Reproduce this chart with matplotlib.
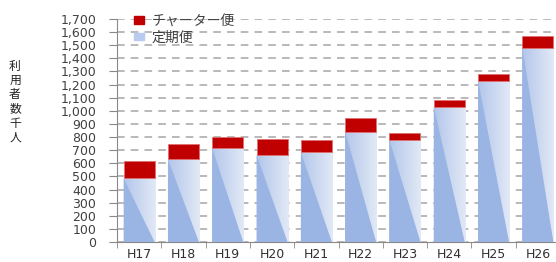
import numpy as np
import matplotlib.pyplot as plt
from matplotlib.patches import Polygon, Rectangle
from matplotlib.colors import LinearSegmentedColormap

# data (thousand people)
years = ["H17", "H18", "H19", "H20", "H21", "H22", "H23", "H24", "H25", "H26"]
regular = [485, 630, 714, 665, 684, 841, 777, 1031, 1229, 1481]   # 定期便
charter = [135, 115, 84, 120, 93, 102, 56, 51, 51, 91]            # チャーター便
yticks = list(range(0, 1800, 100))

BLUE = "#9ab4e3"
RED = "#c00000"
grad = LinearSegmentedColormap.from_list("g", ["#b3c6ea", "#e2e9f6"])

plt.rcParams["font.family"] = ["Noto Sans CJK JP", "DejaVu Sans"]

fig = plt.figure(figsize=(5.56, 2.62), dpi=100)
ax = fig.add_axes([117 / 556, 20 / 262, 443 / 556, 223 / 262])

x = np.arange(len(years))
w = 0.7

for i in range(len(years)):
    x0, x1 = x[i] - w / 2, x[i] + w / 2
    h = regular[i]
    im = ax.imshow(np.linspace(0, 1, 64).reshape(1, -1), cmap=grad,
                   extent=(x0, x1, 0, h), aspect="auto", zorder=2,
                   interpolation="bilinear")
    clip = Rectangle((x0, 0), w, h, transform=ax.transData)
    im.set_clip_path(clip)
    ax.add_patch(Polygon([(x0, 0), (x0, h), (x1, 0)], closed=True,
                         facecolor=BLUE, edgecolor="none", zorder=3))

ax.bar(x, charter, w, bottom=regular, color=RED, edgecolor="#e07070",
       linewidth=0.6, zorder=3)

ax.set_xlim(-0.5, len(years) - 0.5)
ax.set_ylim(0, 1700)

ax.set_yticks(yticks)
ax.set_yticklabels([f"{v:,}" for v in yticks], fontsize=9,
                   color="#404040", family="DejaVu Sans")
ax.set_xticks(x)
ax.set_xticklabels(years, fontsize=9, color="#303030",
                   family="DejaVu Sans")
ax.set_xticks(np.arange(-0.5, len(years)), minor=True)
ax.tick_params(axis="x", which="major", length=0, pad=4)
ax.tick_params(axis="x", which="minor", length=4, color="#888888")
ax.tick_params(axis="y", length=6, color="#888888", pad=9)

ax.yaxis.grid(True, linestyle=(0, (5, 4)), color="#a6a6a6", linewidth=1.1,
              zorder=0)
ax.set_axisbelow(True)
for s in ["top", "right"]:
    ax.spines[s].set_visible(False)
for s in ["left", "bottom"]:
    ax.spines[s].set_color("#888888")

# legend
h1 = Rectangle((0, 0), 1, 1, color=RED)
h2 = Rectangle((0, 0), 1, 1, color="#b9cbee")
ax.legend([h1, h2], ["チャーター便", "定期便"], loc="upper left",
          bbox_to_anchor=(0.01, 1.08), frameon=False, fontsize=10,
          handlelength=0.7, handleheight=0.5, handletextpad=0.6,
          labelspacing=0.2, labelcolor="#404040")

fig.text(15 / 556, 1 - 102 / 262, "利\n用\n者\n数\n千\n人", fontsize=8.5,
         ha="center", va="center", linespacing=1.12, color="#202020")

plt.savefig("out.png", dpi=100)
